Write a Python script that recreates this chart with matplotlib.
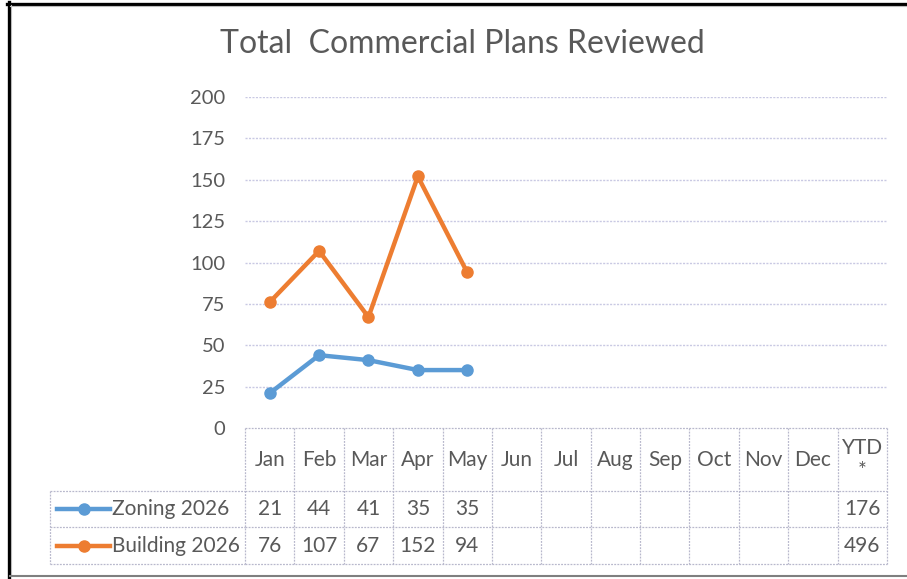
import matplotlib
matplotlib.use("Agg")
import matplotlib.pyplot as plt
from matplotlib.lines import Line2D
from matplotlib.transforms import blended_transform_factory

plt.rcParams['font.family'] = ['Lato', 'DejaVu Sans']

title = "Total  Commercial Plans Reviewed"
months = ["Jan", "Feb", "Mar", "Apr", "May", "Jun", "Jul", "Aug", "Sep", "Oct", "Nov", "Dec"]
ytd_label = "YTD\n*"
series_names = ["Zoning 2026", "Building 2026"]
zoning = [21, 44, 41, 35, 35]
building = [76, 107, 67, 152, 94]
ytd = [176, 496]
yticks = [0, 25, 50, 75, 100, 125, 150, 175, 200]
colors = ["#5B9BD5", "#ED7D31"]

W, H = 907, 579
fig = plt.figure(figsize=(W / 100, H / 100), dpi=100)
TXT = "#595959"
FS = 15

def fx(px):
    return px / W

def fy(py):
    return 1 - py / H

ax = fig.add_axes([fx(245), fy(428), fx(887) - fx(245), fy(97) - fy(428)])
ncat = len(months) + 1
ax.set_xlim(-0.5, ncat - 0.5)
ax.set_ylim(0, 200)
ax.set_yticks(yticks)
ax.set_xticks([])
for s in ax.spines.values():
    s.set_visible(False)
ax.tick_params(axis='y', length=0, pad=14, labelsize=FS - 0.5, labelcolor=TXT)
for t in yticks[1:]:
    ax.axhline(t, color="#C9C9E3", lw=1.0, ls=(0, (1.5, 1)), zorder=0)

series = [zoning, building]
for vals, c in zip(series, colors):
    ax.plot(range(len(vals)), vals, color=c, lw=3.2, marker='o', ms=8,
            solid_capstyle='round', zorder=3, clip_on=False)

fig.text(fx(462), fy(44), title, ha='center', va='center', fontsize=23, color=TXT)

# Data table (drawn below axes)
tr = blended_transform_factory(ax.transData, ax.transAxes)
ftr = blended_transform_factory(fig.transFigure, ax.transAxes)
axh = 428 - 97

def ay(py):
    return (428 - py) / axh

grid_kw = dict(color="#B8B8CC", lw=0.9, ls=(0, (1.5, 1)), clip_on=False)
y_top, y_hdr, y_r1, y_r2 = ay(428), ay(491), ay(527), ay(564)
for k in range(ncat + 1):
    ax.add_line(Line2D([k - 0.5, k - 0.5], [y_top, y_r2], transform=tr, **grid_kw))
ax.add_line(Line2D([-0.5, ncat - 0.5], [y_top, y_top], transform=tr, **grid_kw))
for yy in (y_hdr, y_r1, y_r2):
    ax.add_line(Line2D([fx(50), fx(245)], [yy, yy], transform=ftr, **grid_kw))
    ax.add_line(Line2D([-0.5, ncat - 0.5], [yy, yy], transform=tr, **grid_kw))
ax.add_line(Line2D([fx(50), fx(50)], [y_hdr, y_r2], transform=ftr, **grid_kw))

labels = months + [ytd_label]
for i, lab in enumerate(labels):
    ax.text(i, (y_top + y_hdr) / 2, lab, transform=tr, ha='center', va='center',
            fontsize=FS, color=TXT, linespacing=1.25)

row_mid = [(y_hdr + y_r1) / 2, (y_r1 + y_r2) / 2]
for r, (name, vals, tot, c) in enumerate(zip(series_names, series, ytd, colors)):
    ym = row_mid[r]
    ax.add_line(Line2D([fx(57), fx(110)], [ym, ym], transform=ftr, color=c, lw=3.2, clip_on=False))
    ax.add_line(Line2D([fx(84)], [ym], transform=ftr, color=c, marker='o', ms=8, clip_on=False))
    ax.text(fx(112), ym, name, transform=ftr, ha='left', va='center', fontsize=FS, color=TXT)
    for i, v in enumerate(vals):
        ax.text(i, ym, str(v), transform=tr, ha='center', va='center', fontsize=FS, color=TXT)
    ax.text(ncat - 1, ym, str(tot), transform=tr, ha='center', va='center', fontsize=FS, color=TXT)

# outer frame
fig.add_artist(Line2D([fx(8.5), fx(8.5)], [fy(2), fy(577)], transform=fig.transFigure, color="black", lw=2.4))
fig.add_artist(Line2D([fx(7), fx(907)], [fy(3.5), fy(3.5)], transform=fig.transFigure, color="black", lw=2.4))
fig.add_artist(Line2D([fx(11), fx(11)], [fy(5), fy(575)], transform=fig.transFigure, color="#BBBBBB", lw=0.8))
fig.add_artist(Line2D([fx(10), fx(907)], [fy(6), fy(6)], transform=fig.transFigure, color="#BBBBBB", lw=0.8))
fig.add_artist(Line2D([fx(10), fx(907)], [fy(576), fy(576)], transform=fig.transFigure, color="#7F7F7F", lw=1.5))

fig.savefig("out.png", dpi=100)
